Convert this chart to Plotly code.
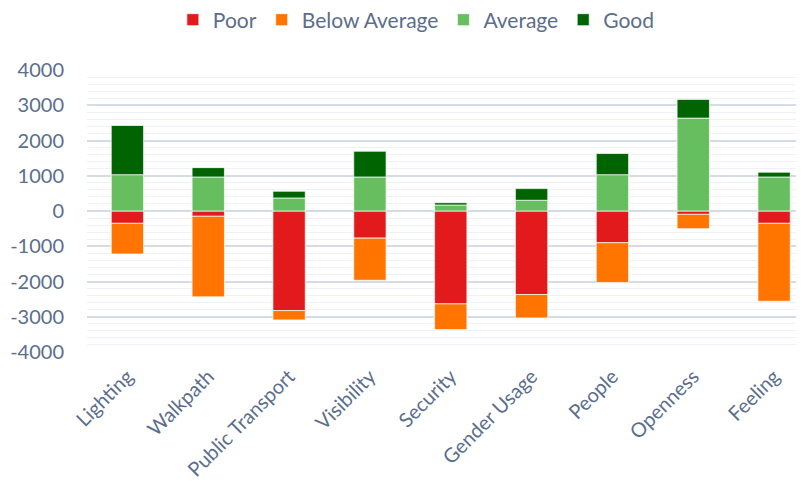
import plotly.graph_objects as go

categories = ["Lighting", "Walkpath", "Public Transport", "Visibility", "Security",
              "Gender Usage", "People", "Openness", "Feeling"]
poor = [350, 150, 2825, 770, 2635, 2370, 900, 95, 350]
below_average = [870, 2285, 265, 1195, 730, 665, 1130, 405, 2210]
average = [1030, 965, 370, 965, 170, 305, 1030, 2635, 965]
good = [1395, 265, 190, 730, 65, 330, 600, 530, 135]
y_ticks = [-4000, -3000, -2000, -1000, 0, 1000, 2000, 3000, 4000]

text_color = "#5B6E8D"
font_family = "Lato"

series = [
    ("Poor", [-v for v in poor], "#E31A1C"),
    ("Below Average", [-v for v in below_average], "#FF7500"),
    ("Average", average, "#66BE5F"),
    ("Good", good, "#006400"),
]

fig = go.Figure()
for name, vals, color in series:
    fig.add_trace(go.Bar(
        name=name, x=categories, y=vals,
        marker=dict(color=color, line=dict(color="rgba(255,255,255,0.7)", width=1)),
        width=0.4,
    ))

fig.update_layout(
    barmode="relative",
    width=796, height=481,
    margin=dict(l=79, r=0, t=62, b=137, autoexpand=False),
    paper_bgcolor="white", plot_bgcolor="white",
    font=dict(family=font_family, size=19, color=text_color),
    legend=dict(orientation="h", x=0.513, xanchor="center", xref="container",
                y=0.975, yanchor="middle", yref="container",
                font=dict(size=21, color=text_color), traceorder="normal"),
    showlegend=True,
)

fig.update_xaxes(
    range=[-0.5, 8.37], tickangle=-45, showgrid=False, zeroline=False,
    showline=False, ticks="", ticklabelstandoff=8, automargin=False,
    tickfont=dict(size=20, color=text_color, family=font_family),
)
fig.update_yaxes(
    range=[-4000, 4000], tickvals=y_ticks, ticktext=[str(v) for v in y_ticks],
    showgrid=True, gridcolor="#D6DCE5", gridwidth=2,
    zeroline=True, zerolinecolor="#D6DCE5", zerolinewidth=2,
    showline=False, ticks="", ticklabelstandoff=22, automargin=False,
    tickfont=dict(size=20, color=text_color, family=font_family),
    minor=dict(dtick=200, showgrid=True, gridcolor="#EEF1F6", gridwidth=1),
)

fig.write_html("out.html")
